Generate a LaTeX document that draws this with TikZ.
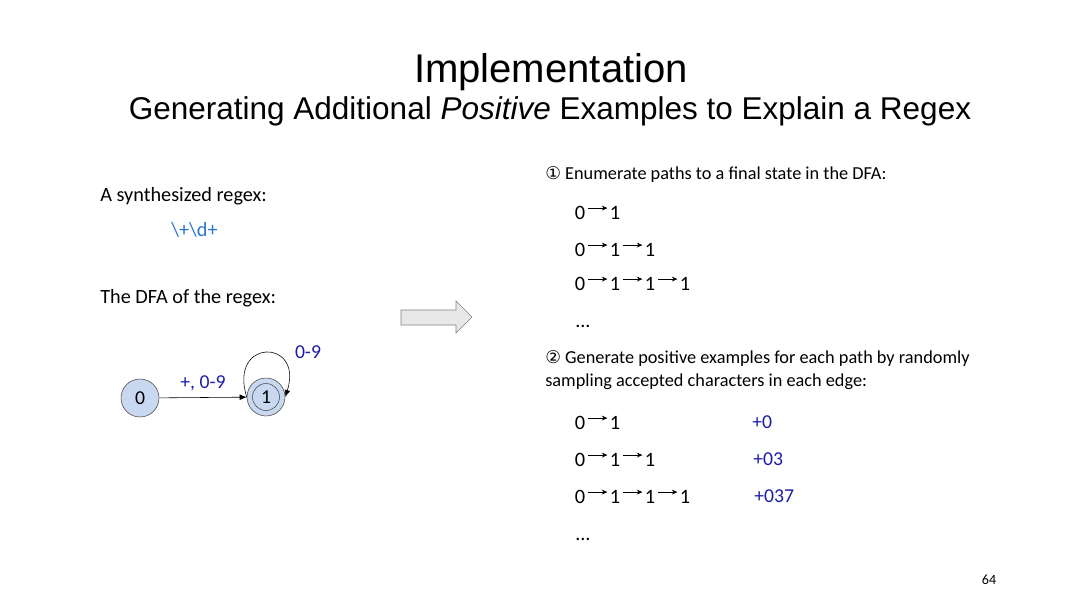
\documentclass[tikz,border=0pt]{standalone}
\usepackage{fontspec}
\setmainfont{Carlito}
\newfontfamily\titlefont{Liberation Sans}
\newfontfamily\symfont{DejaVu Sans}
\usetikzlibrary{arrows.meta}

\definecolor{regexblue}{HTML}{2E75D0}
\definecolor{labelblue}{HTML}{1C1CA8}
\definecolor{statefill}{HTML}{C8D8F0}

\tikzset{
  body/.style={anchor=base west, inner sep=0pt, font=\fontsize{14.4}{16}\selectfont},
  rbody/.style={anchor=base west, inner sep=0pt, font=\fontsize{13}{16}\selectfont},
  digit/.style={inner sep=0pt, font=\fontsize{14.5}{16}\selectfont},
  steparrow/.style={-{Stealth[length=4pt,width=3.5pt]}, line width=0.6pt, shorten <=2pt, shorten >=1.5pt},
  state/.style={circle, draw=black!70, fill=statefill, minimum size=27pt, inner sep=0pt, font=\fontsize{14}{16}\selectfont},
  edgelabel/.style={text=labelblue, font=\fontsize{14}{16}\selectfont},
  sample/.style={anchor=base west, inner sep=0pt, text=labelblue, font=\fontsize{14}{16}\selectfont},
}

% one row of a path: 0 -> 1 -> ... -> 1
\newcommand{\dfapath}[3]{%
  \node[digit] (#1-0) at (580,#2) {0};
  \foreach \i [remember=\i as \j (initially 0)] in {1,...,#3} {
    \node[digit] (#1-\i) at (580+35*\i,#2) {1};
    \draw[steparrow] ([yshift=3.5pt]#1-\j.east) -- ([yshift=3.5pt]#1-\i.west);
  }
}

\begin{document}
\begin{tikzpicture}[x=0.025cm, y=-0.025cm]
    \useasboundingbox (0,0) rectangle (1080,608);

    % 1. title
    \node[font=\titlefont\fontsize{28.5}{32}\selectfont] (title) at (551,72) {Implementation};
    \node[font=\titlefont\fontsize{22.4}{26}\selectfont] (subtitle) at (550,111) {Generating Additional \emph{Positive} Examples to Explain a Regex};

    % 2. left column: regex and its DFA
    \node[body] (regextitle) at (100,201) {A synthesized regex:};
    \node[body, text=regexblue] (regex) at (171,236) {\textbackslash+\textbackslash d+};
    \node[body] (dfatitle) at (100,303) {The DFA of the regex:};

    \node[state] (s0) at (140,398) {0};
    \node[state] (s1) at (266,397) {1};
    \draw[black!70] (s1) circle (13.5);
    \draw[-{Latex[length=5pt,width=4pt]}] (s0) -- (s1) node[edgelabel, midway, above=1pt] {+, 0-9};
    \draw[-{Latex[length=5pt,width=4pt]}] (s1.west) .. controls (228,338) and (304,338) .. (s1.east);
    \node[edgelabel] (looplabel) at (308,352) {0-9};

    % 3. big arrow in the middle
    \draw[gray, fill=gray!18] (401,310) -- (456,310) -- (456,301) -- (472,317) -- (456,333) -- (456,325) -- (401,325) -- cycle;

    % 4. right column: enumerate paths
    \node[rbody] (step1) at (545,179) {{\symfont\fontsize{12.5}{16}\selectfont ①} Enumerate paths to a final state in the DFA:};
    \dfapath{pa}{213}{1}
    \dfapath{pb}{250}{2}
    \dfapath{pc}{284}{3}
    \node[body] (dotsa) at (575,327) {...};

    % 5. right column: generate examples
    \node[rbody] (step2) at (545,363) {{\symfont\fontsize{12.5}{16}\selectfont ②} Generate positive examples for each path by randomly};
    \node[rbody] (step2b) at (545,386) {sampling accepted characters in each edge:};
    \dfapath{qa}{423}{1}
    \dfapath{qb}{460}{2}
    \dfapath{qc}{497}{3}
    \node[body] (dotsb) at (575,540) {...};
    \node[sample] (ex1) at (752,428) {+0};
    \node[sample] (ex2) at (753,465) {+03};
    \node[sample] (ex3) at (754,502) {+037};

    % 6. page number
    \node[font=\fontsize{10}{12}\selectfont] (pageno) at (989,580) {64};

\end{tikzpicture}
\end{document}
